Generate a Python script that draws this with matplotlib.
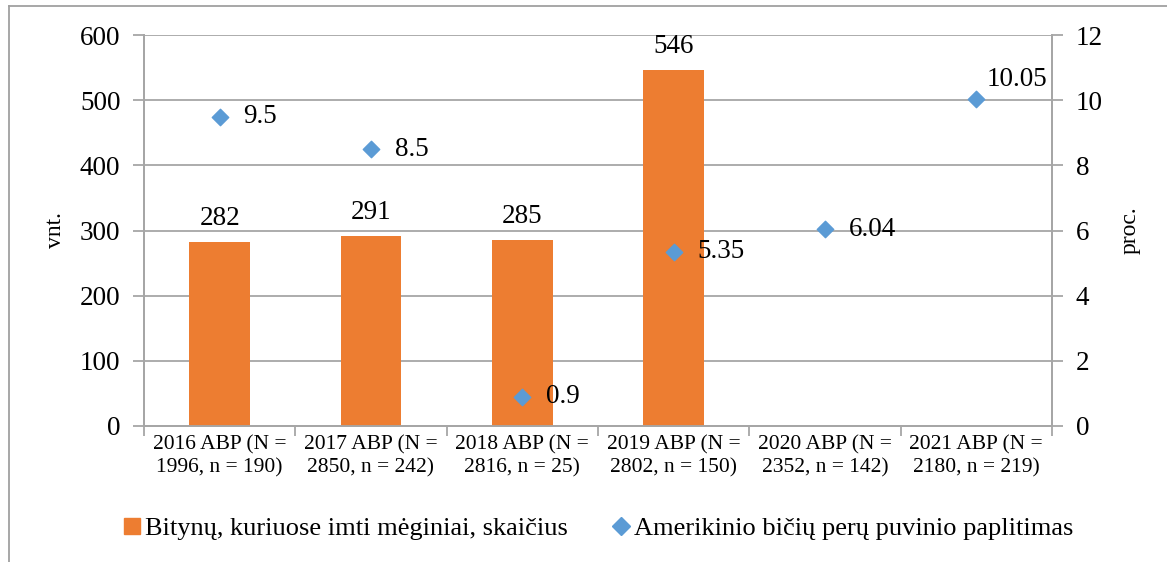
import matplotlib
matplotlib.use("Agg")
import matplotlib.pyplot as plt
import numpy as np
from matplotlib.lines import Line2D

plt.rcParams['font.family'] = ['Liberation Serif', 'DejaVu Serif']

# data
categories = ["2016 ABP (N =\n1996, n = 190)", "2017 ABP (N =\n2850, n = 242)",
              "2018 ABP (N =\n2816, n = 25)", "2019 ABP (N =\n2802, n = 150)",
              "2020 ABP (N =\n2352, n = 142)", "2021 ABP (N =\n2180, n = 219)"]
bar_values = [282, 291, 285, 546, None, None]
prevalence = [9.5, 8.5, 0.9, 5.35, 6.04, 10.05]
prevalence_labels = ["9.5", "8.5", "0.9", "5.35", "6.04", "10.05"]

bar_name = "Bitynų, kuriuose imti mėginiai, skaičius"
point_name = "Amerikinio bičių perų puvinio paplitimas"

orange = "#ED7D31"
blue = "#5B9BD5"
grid_gray = "#A6A6A6"

fig = plt.figure(figsize=(11.67, 5.62), dpi=100)
ax = fig.add_axes([0.1234, 0.242, 0.778, 0.6955])
ax2 = ax.twinx()

x = np.arange(len(categories))

# bars
bx = [i for i, v in enumerate(bar_values) if v is not None]
bv = [v for v in bar_values if v is not None]
ax.bar(bx, bv, width=0.4, color=orange, zorder=3)
for xi, v in zip(bx, bv):
    ax.annotate(str(v), (xi, v), xytext=(0, 8), textcoords="offset points",
                ha="center", va="bottom", fontsize=19.5)

ax.set_xlim(-0.5, len(categories) - 0.5)
ax.set_ylim(0, 600)
ax.set_yticks(range(0, 601, 100))
ax.yaxis.grid(True, color=grid_gray, linewidth=1.3, zorder=0)
ax.set_axisbelow(True)

# category labels between boundary ticks
ax.set_xticks(np.arange(-0.5, len(categories), 1.0))
ax.set_xticklabels([])
ax.set_xticks(x, minor=True)
ax.set_xticklabels(categories, minor=True, fontsize=15.5)
ax.tick_params(axis="x", which="minor", length=0, pad=7)
ax.tick_params(axis="x", which="major", length=7, color=grid_gray, width=1.3)
ax.tick_params(axis="y", length=8, color=grid_gray, width=1.3, labelsize=19.5, pad=9)
ax.set_ylabel("vnt.", fontsize=17, labelpad=10)

# points on the secondary axis
ax2.scatter(x, prevalence, marker="D", s=70, color=blue, zorder=4)
for xi, v, lab in zip(x, prevalence, prevalence_labels):
    if lab == "10.05":
        ax2.annotate(lab, (xi, v), xytext=(29, 5), textcoords="offset points",
                     ha="center", va="bottom", fontsize=19.5)
    else:
        ax2.annotate(lab, (xi, v), xytext=(17, 0), textcoords="offset points",
                     ha="left", va="center", fontsize=19.5)
ax2.set_ylim(0, 12)
ax2.set_yticks(range(0, 13, 2))
ax2.tick_params(axis="y", length=8, color=grid_gray, width=1.3, labelsize=19.5, pad=9)
ax2.set_ylabel("proc.", fontsize=17, labelpad=12)

for a in (ax, ax2):
    a.spines["top"].set_visible(False)
    for s in ("left", "right", "bottom"):
        a.spines[s].set_color(grid_gray)
        a.spines[s].set_linewidth(1.3)

# legend below the plot
handles = [Line2D([], [], marker="s", linestyle="none", color=orange, markersize=12),
           Line2D([], [], marker="D", linestyle="none", color=blue, markersize=9)]
fig.legend(handles, [bar_name, point_name], loc="center", bbox_to_anchor=(0.512, 0.06),
           ncol=2, frameon=False, fontsize=19, handletextpad=0.1, columnspacing=1.6,
           handlelength=0.8)

# outer chart frame (top and left edges visible)
fig.add_artist(Line2D([9 / 1167, 1.0], [1 - 6 / 562, 1 - 6 / 562], transform=fig.transFigure,
                      color="#A0A0A0", linewidth=1.3))
fig.add_artist(Line2D([9 / 1167, 9 / 1167], [0, 1 - 6 / 562], transform=fig.transFigure,
                      color="#A0A0A0", linewidth=1.3))

fig.savefig("out.png", dpi=100, facecolor="white")
